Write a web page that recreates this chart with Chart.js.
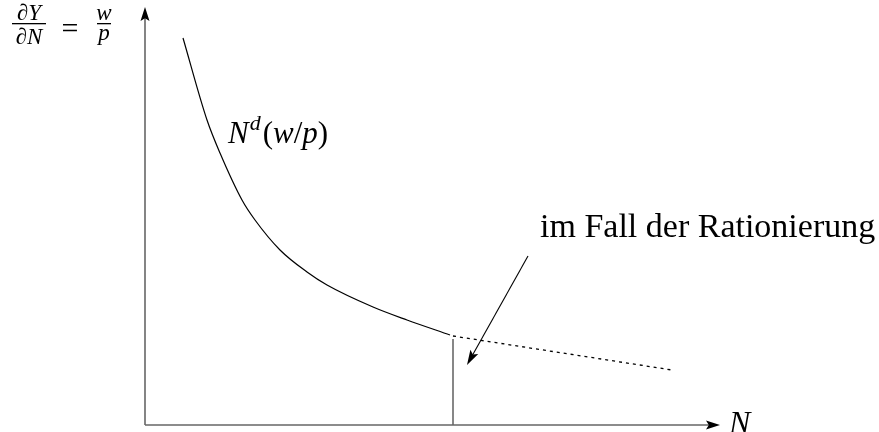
<!DOCTYPE html>
<html>
<head>
<meta charset="utf-8">
<script src="https://cdn.jsdelivr.net/npm/chart.js@4"></script>
<style>
html,body{margin:0;padding:0;background:#fff;}
#wrap{position:relative;width:879px;height:432px;overflow:hidden;}
#wrap canvas{position:absolute;left:0;top:0;}
.lbl{position:absolute;white-space:nowrap;font-family:"Liberation Serif","DejaVu Serif",serif;line-height:1;color:#000;}
.lbl i{font-style:italic;}
.lbl .sup{font-size:0.71em;position:relative;top:-0.6em;font-style:italic;margin-left:1px;margin-right:2px;}
</style>
</head>
<body>
<div id="wrap"><canvas id="c" width="879" height="432"></canvas></div>
<script>
// Labour demand curve N^d(w/p) (x = N, y = w/p)
const curveN  = [3.8, 6.2, 7.5, 9.7, 11.0, 13.5, 16.2, 18.2, 22.8, 26.2, 30.5];
const curveWP = [38.7, 30.5, 27.2, 22.5, 20.5, 17.5, 15.3, 14.0, 11.8, 10.5, 9.0];
// dotted continuation (rationing case)
const dottedN  = [30.8, 52.7];
const dottedWP = [8.9, 5.5];
// rationed employment level (vertical line)
const rationN = [30.8, 30.8];
const rationWP = [8.6, 0];
// axes extents
const axisMaxN = 57.5;
const axisMaxWP = 41.8;
// annotation arrow (from, to)
const annotN  = [38.3, 32.2];
const annotWP = [16.9, 6.0];
// labels
const labelCurve = 'im Fall der Rationierung';
const labelAxisX = 'N';

const pts = (xs, ys) => xs.map((x, i) => ({x, y: ys[i]}));

function arrowHead(ctx, x0, y0, x1, y1, len, half) {
  const a = Math.atan2(y1 - y0, x1 - x0);
  ctx.save();
  ctx.translate(x1, y1);
  ctx.rotate(a);
  ctx.beginPath();
  ctx.moveTo(0, 0);
  ctx.lineTo(-len, half);
  ctx.lineTo(-len * 0.8, 0);
  ctx.lineTo(-len, -half);
  ctx.closePath();
  ctx.fillStyle = '#000';
  ctx.fill();
  ctx.restore();
}

const decor = {
  id: 'decorMarks',
  afterDatasetsDraw(chart) {
    const ctx = chart.ctx;
    const xs = chart.scales.x, ys = chart.scales.y;
    const px = v => xs.getPixelForValue(v), py = v => ys.getPixelForValue(v);
    arrowHead(ctx, px(0), py(0), px(0), py(axisMaxWP), 14, 4.5);
    arrowHead(ctx, px(0), py(0), px(axisMaxN), py(0), 14, 4.5);
    ctx.save();
    ctx.strokeStyle = '#000';
    ctx.lineWidth = 1.1;
    const ax0 = px(annotN[0]), ay0 = py(annotWP[0]), ax1 = px(annotN[1]), ay1 = py(annotWP[1]);
    const ang = Math.atan2(ay1 - ay0, ax1 - ax0);
    ctx.beginPath();
    ctx.moveTo(ax0, ay0);
    ctx.lineTo(ax1 - Math.cos(ang) * 10, ay1 - Math.sin(ang) * 10);
    ctx.stroke();
    ctx.restore();
    arrowHead(ctx, ax0, ay0, ax1, ay1, 15, 4.5);
    // fraction bars of the y-axis label
    ctx.fillStyle = '#000';
    ctx.fillRect(12, 23, 34, 1.3);
    ctx.fillRect(97, 23, 14, 1.3);
  }
};

const chart = new Chart(document.getElementById('c'), {
  type: 'scatter',
  data: {
    datasets: [
      {data: pts([0, axisMaxN - 1], [0, 0]), showLine: true, borderColor: '#666', borderWidth: 1.6, pointRadius: 0, clip: false},
      {data: pts([0, 0], [0, axisMaxWP - 1]), showLine: true, borderColor: '#666', borderWidth: 1.6, pointRadius: 0, clip: false},
      {data: pts(curveN, curveWP), showLine: true, borderColor: '#000', borderWidth: 1.2, pointRadius: 0, cubicInterpolationMode: 'monotone', clip: false},
      {data: pts(dottedN, dottedWP), showLine: true, borderColor: '#000', borderWidth: 1.3, borderDash: [3, 4], pointRadius: 0, clip: false},
      {data: pts(rationN, rationWP), showLine: true, borderColor: '#555', borderWidth: 1.4, pointRadius: 0, clip: false}
    ]
  },
  options: {
    responsive: false,
    animation: false,
    layout: {padding: {left: 145, right: 159, top: 7, bottom: 7}},
    plugins: {legend: {display: false}, tooltip: {enabled: false}},
    scales: {
      x: {type: 'linear', min: 0, max: axisMaxN, display: false},
      y: {type: 'linear', min: 0, max: axisMaxWP, display: false}
    }
  },
  plugins: [decor]
});

// HTML text labels, anchored at a baseline point (x, y)
const wrap = document.getElementById('wrap');
function label(html, x, baseY, size, center) {
  const d = document.createElement('div');
  d.className = 'lbl';
  d.style.fontSize = size + 'px';
  d.innerHTML = html;
  d.style.left = x + 'px';
  d.style.top = (baseY - 0.8375 * size) + 'px';
  if (center) d.style.transform = 'translateX(-50%)';
  wrap.appendChild(d);
  return d;
}
const px = v => chart.scales.x.getPixelForValue(v), py = v => chart.scales.y.getPixelForValue(v);
label(labelCurve, px(annotN[0]) + 12, py(annotWP[0]) - 19, 34, false);
label('<i>' + labelAxisX + '</i>', px(axisMaxN) + 9, py(0) + 8, 32, false);
label('<i>N</i><span class="sup">d</span>(<i>w</i>/<i>p</i>)', px(curveN[3]) - 14, py(curveWP[0]) + 105, 31, false);
label('<i>\u2202Y</i>', 29, 20, 23, true);
label('<i>\u2202N</i>', 29, 44, 23, true);
label('=', 70, 38, 30, true);
label('<i>w</i>', 104, 20, 23, true);
label('<i>p</i>', 104, 40, 23, true);
</script>
</body>
</html>
